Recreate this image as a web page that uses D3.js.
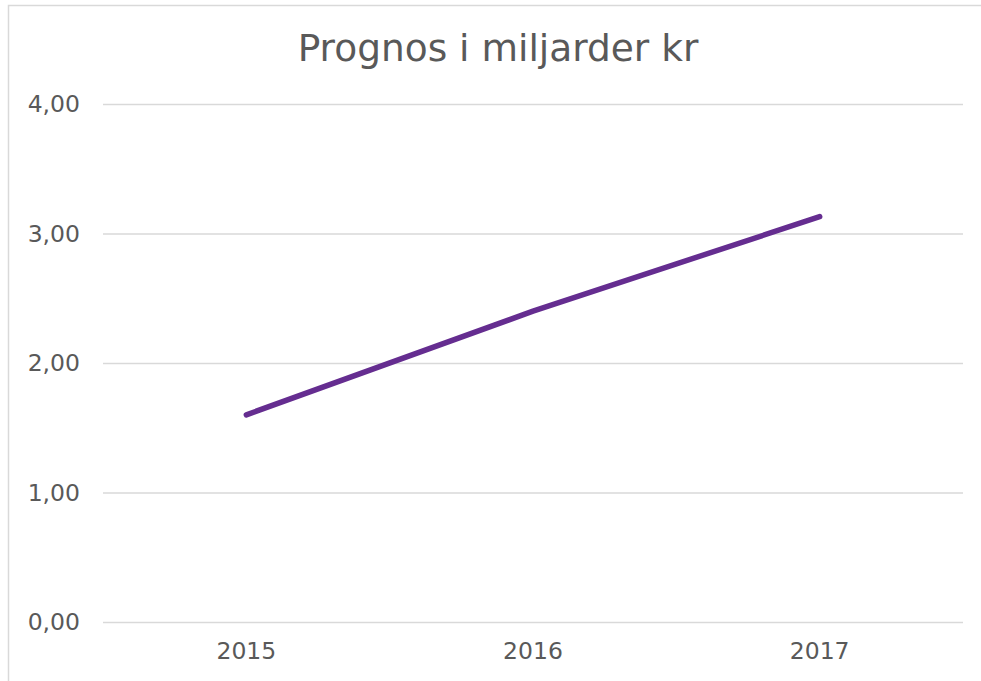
<!DOCTYPE html>
<html>
<head>
<meta charset="utf-8">
<script src="https://cdn.jsdelivr.net/npm/d3@7"></script>
<style>
  body { margin: 0; background: #fff; }
  svg { display: block; font-family: 'DejaVu Sans', Verdana, sans-serif; }
</style>
</head>
<body>
<div id="chart"></div>
<script>
const years = ['2015', '2016', '2017']
const forecast = [1.60, 2.40, 3.13]
const yTicks = [0, 1, 2, 3, 4]
const title = 'Prognos i miljarder kr'

const width = 981
const height = 681
const margin = { top: 104, right: 18, bottom: 59, left: 103 }

const svg = d3.select('#chart')
  .append('svg')
  .attr('width', width)
  .attr('height', height)

// Chart frame (left and top edges visible in the crop)
svg.append('path')
  .attr('d', `M8.5,${height} V5.5 H${width}`)
  .attr('fill', 'none')
  .attr('stroke', '#d9d9d9')
  .attr('stroke-width', 1.5)

svg.append('text')
  .attr('x', 498)
  .attr('y', 61)
  .attr('text-anchor', 'middle')
  .attr('font-size', 37.5)
  .attr('fill', '#595959')
  .text(title)

const x = d3.scaleBand()
  .domain(years)
  .range([margin.left, width - margin.right])

const y = d3.scaleLinear()
  .domain([0, 4])
  .range([height - margin.bottom, margin.top])

const fmt = d => d3.format('.2f')(d).replace('.', ',')

// Gridlines and y labels
const yAxis = svg.append('g')
  .attr('transform', `translate(${margin.left}, 0)`)
  .call(d3.axisLeft(y)
    .tickValues(yTicks)
    .tickSize(-(width - margin.left - margin.right))
    .tickPadding(23)
    .tickFormat(fmt))

yAxis.select('.domain').remove()
yAxis.selectAll('.tick line')
  .attr('stroke', '#d9d9d9')
  .attr('stroke-width', 1.5)
yAxis.selectAll('.tick text')
  .attr('fill', '#595959')
  .attr('font-size', 23.5)
  .attr('font-family', "'DejaVu Sans', Verdana, sans-serif")

// x labels
const xAxis = svg.append('g')
  .attr('transform', `translate(0, ${height - margin.bottom})`)
  .call(d3.axisBottom(x).tickSize(0).tickPadding(20))

xAxis.select('.domain').remove()
xAxis.selectAll('.tick text')
  .attr('fill', '#595959')
  .attr('font-size', 23.5)
  .attr('font-family', "'DejaVu Sans', Verdana, sans-serif")

const line = d3.line()
  .x((d, i) => x(years[i]) + x.bandwidth() / 2)
  .y(d => y(d))

svg.append('path')
  .datum(forecast)
  .attr('d', line)
  .attr('fill', 'none')
  .attr('stroke', '#652d90')
  .attr('stroke-width', 5.5)
  .attr('stroke-linecap', 'round')
</script>
</body>
</html>
